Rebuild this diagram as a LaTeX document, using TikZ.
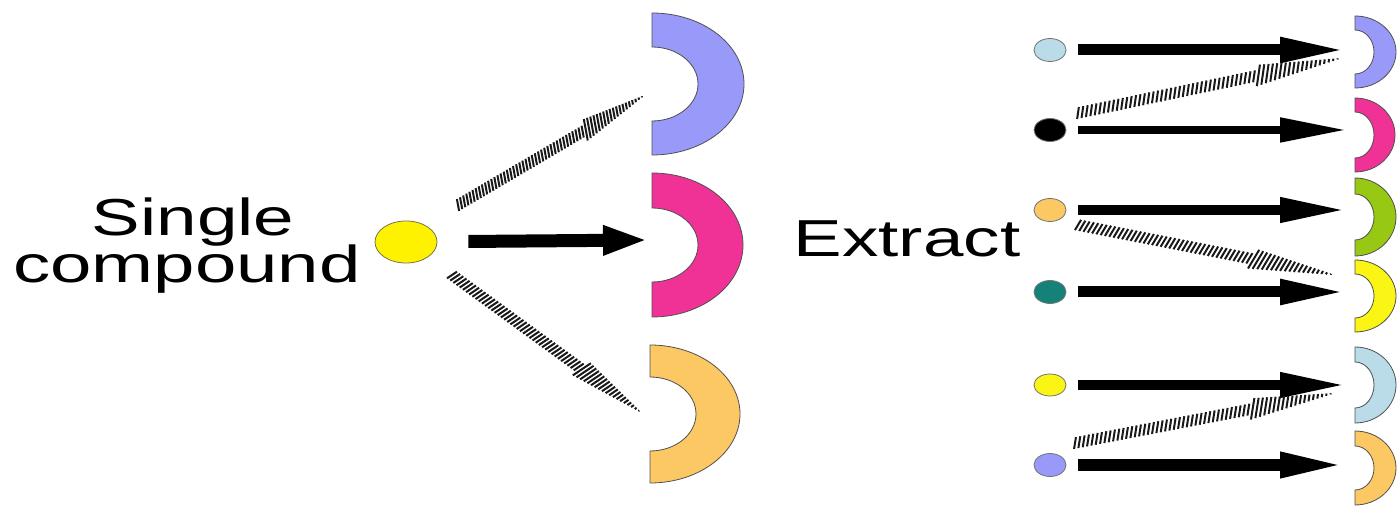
\documentclass[tikz,border=0pt]{standalone}
\usepackage{fontspec}
\setmainfont{Liberation Sans}
\usetikzlibrary{arrows.meta,calc,shapes.geometric}
\definecolor{ringpurple}{RGB}{153,153,250}
\definecolor{ringpink}{RGB}{240,50,150}
\definecolor{ringorange}{RGB}{252,200,100}
\definecolor{ringgreen}{RGB}{150,200,20}
\definecolor{ringyellow}{RGB}{250,245,20}
\definecolor{ringlblue}{RGB}{185,220,232}
\definecolor{dotteal}{RGB}{20,130,120}
\definecolor{edgegray}{RGB}{80,80,80}
\newcommand{\halfring}[7]{%
  \filldraw[ringedge, fill=#7] (#1,#2+#4) arc[start angle=90,end angle=-90,x radius=#3pt,y radius=#4pt]
    -- (#1,#2-#6) arc[start angle=-90,end angle=90,x radius=#5pt,y radius=#6pt] -- cycle;}
\newcommand{\hatchedarrow}[2]{%
  \foreach \i in {0,...,59}{%
    \pgfmathsetmacro{\hpos}{\i/60}%
    \pgfmathsetmacro{\hlen}{\hpos<0.68 ? 6 : 11*(1-\hpos)/0.32}%
    \draw[hatchline] ($(#1)!\hpos!(#2)!\hlen pt!70:(#2)$) -- ($(#1)!\hpos!(#2)!\hlen pt!-110:(#2)$);
  }}
\begin{document}
\begin{tikzpicture}[x=1pt,y=1pt,
  ringedge/.style={draw=edgegray,line width=0.8pt},
  dot/.style={ellipse,draw=black!55,line width=0.8pt,inner sep=0pt},
  smalldot/.style={dot,minimum width=32pt,minimum height=23pt},
  hatchline/.style={draw=black!90,line width=2pt},
  bigarrow/.style={draw=black,line width=13pt,-{Triangle[length=45pt,width=27pt]}},
  thinarrow/.style={draw=black,line width=10pt,-{Triangle[length=67pt,width=23pt]}},
  lbl/.style={inner sep=0pt,anchor=base,font=\fontsize{52}{60}\selectfont}]
\useasboundingbox (0,0) rectangle (1397,508);
\fill[white] (0,0) rectangle (1397,508);

% ---- left part ----
\node[lbl] (single) at (193,272) {\scalebox{1.4}[1]{Single}};
\node[lbl] (compound) at (187,225) {\scalebox{1.43}[1]{compound}};
\node[dot,fill=yellow,draw=black!60!yellow,minimum width=62pt,minimum height=42pt] (yc) at (406,266) {};

\halfring{652}{424}{92}{71}{46}{37}{ringpurple}
\halfring{652}{263}{91}{72}{46}{37}{ringpink}
\halfring{650}{94}{90}{69}{46}{37}{ringorange}

\coordinate (lmid) at (648,268);
\draw[bigarrow,shorten <=31pt] (yc) -- (lmid);
\coordinate (lu1) at (458,303);
\coordinate (lu2) at (645,413);
\coordinate (ll1) at (452,233);
\coordinate (ll2) at (642,95);
\hatchedarrow{lu1}{lu2}
\hatchedarrow{ll1}{ll2}

% ---- right part ----
\node[lbl] (extract) at (907,251) {\scalebox{1.4}[1]{Extract}};

\node[smalldot,fill=ringlblue] (d1) at (1050,458) {};
\node[smalldot,fill=black] (d2) at (1050,378) {};
\node[smalldot,fill=ringorange] (d3) at (1050,298) {};
\node[smalldot,fill=dotteal] (d4) at (1050,216) {};
\node[smalldot,fill=ringyellow,minimum height=22pt] (d5) at (1050,123) {};
\node[smalldot,fill=ringpurple] (d6) at (1050,43) {};

\halfring{1355}{456}{41}{36}{19}{22}{ringpurple}
\halfring{1355}{373}{40}{37}{19}{23}{ringpink}
\halfring{1355}{291}{41}{39}{19}{23}{ringgreen}
\halfring{1355}{212}{41}{36}{19}{22}{ringyellow}
\halfring{1355}{123}{41}{38}{19}{23}{ringlblue}
\halfring{1355}{40}{41}{37}{19}{22}{ringorange}

\coordinate (t1) at (1347,458);
\coordinate (t2) at (1347,378);
\coordinate (t3) at (1347,298);
\coordinate (t4) at (1347,216);
\coordinate (t5) at (1347,123);
\coordinate (t6) at (1347,43);
\draw[thinarrow,line width=11pt,shorten <=12pt] (d1) -- (t1);
\draw[thinarrow,line width=8pt,shorten <=12pt] (d2) -- (t2);
\draw[thinarrow,shorten <=12pt] (d3) -- (t3);
\draw[thinarrow,line width=11pt,shorten <=12pt] (d4) -- (t4);
\draw[thinarrow,shorten <=12pt] (d5) -- (t5);
\draw[thinarrow,line width=12pt,shorten <=12pt] (d6) -- (t6);

\coordinate (ra1) at (1078,395);
\coordinate (ra2) at (1342,450);
\coordinate (rb1) at (1078,283);
\coordinate (rb2) at (1335,233);
\coordinate (rc1) at (1075,65);
\coordinate (rc2) at (1335,115);
\hatchedarrow{ra1}{ra2}
\hatchedarrow{rb1}{rb2}
\hatchedarrow{rc1}{rc2}
\end{tikzpicture}
\end{document}
